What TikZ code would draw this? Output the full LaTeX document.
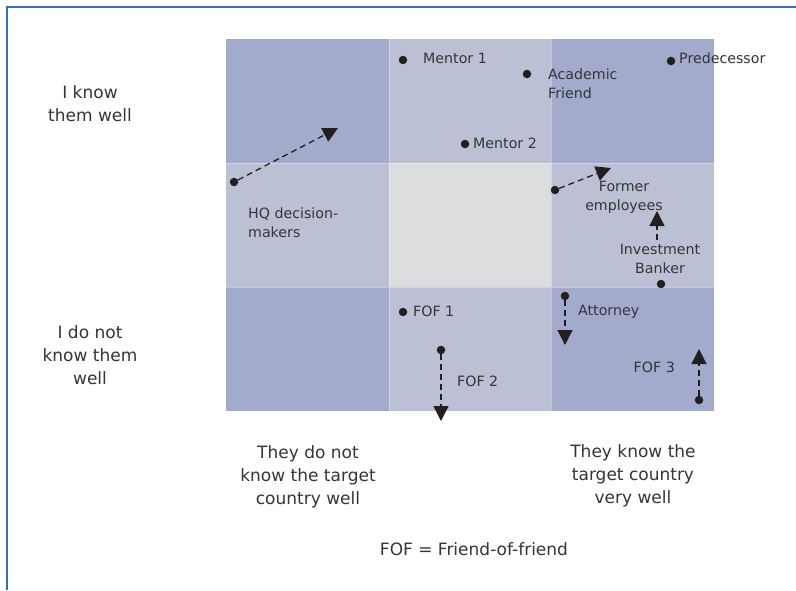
\documentclass[tikz,border=0pt]{standalone}
\usepackage{fontspec}
\setmainfont{DejaVu Sans}
\usetikzlibrary{arrows.meta}
\definecolor{celldark}{RGB}{162,171,203}
\definecolor{cellmid}{RGB}{187,192,212}
\definecolor{celllight}{RGB}{220,221,223}
\definecolor{framebl}{RGB}{52,112,180}
\definecolor{ink}{RGB}{35,31,32}
\definecolor{txt}{RGB}{55,52,55}
\begin{document}
\begin{tikzpicture}[x=1pt,y=-1pt,
  dot/.style={circle,fill=ink,inner sep=0pt,minimum size=8.5pt},
  lbl/.style={text=txt,inner sep=0pt,font=\fontsize{14.2}{19}\selectfont},
  axis/.style={text=txt,inner sep=0pt,align=center,font=\fontsize{17}{23.2}\selectfont},
  dasharrow/.style={draw=ink,line width=1.3pt,dash pattern=on 6pt off 4pt,
    -{Triangle[length=15pt,width=15pt]}}]
\useasboundingbox (0,0) rectangle (796,590);
\fill[white] (0,0) rectangle (796,590);
% open frame: top and left rules
\draw[framebl,line width=2pt] (796,6.5) -- (7,6.5) -- (7,590);
% 3x3 grid of cells
\fill[celldark]  (226,39)  rectangle (389,163);
\fill[cellmid]   (389,39)  rectangle (551,163);
\fill[celldark]  (551,39)  rectangle (714,163);
\fill[cellmid]   (226,163) rectangle (389,287);
\fill[celllight] (389,163) rectangle (551,287);
\fill[cellmid]   (551,163) rectangle (714,287);
\fill[celldark]  (226,287) rectangle (389,411);
\fill[cellmid]   (389,287) rectangle (551,411);
\fill[celldark]  (551,287) rectangle (714,411);
\draw[white,opacity=0.35,line width=1pt] (389,39) -- (389,411) (551,39) -- (551,411)
  (226,163) -- (714,163) (226,287) -- (714,287);
% axis labels
\node[axis] (ykw) at (90,104) {I know\\them well};
\node[axis] (ynk) at (90,355) {I do not\\know them\\well};
\node[axis] (xnk) at (308,477) {They do not\\know the target\\country well};
\node[axis] (xk)  at (633,476) {They know the\\target country\\very well};
\node[axis] (key) at (474,549) {FOF = Friend-of-friend};
% people
\node[dot] (m1) at (403,60) {};
\node[lbl,anchor=west] (m1l) at (423,58) {Mentor 1};
\node[dot] (af) at (527,74) {};
\node[lbl,anchor=west,align=left] (afl) at (548,84) {Academic\\Friend};
\node[dot] (pre) at (671,61) {};
\node[lbl,anchor=west] (prel) at (679,58) {Predecessor};
\node[dot] (m2) at (465,144) {};
\node[lbl,anchor=west] (m2l) at (473,143) {Mentor 2};
\node[dot] (hq) at (234,182) {};
\coordinate (hqend) at (338,128);
\node[lbl,anchor=west,align=left] (hql) at (248,223) {HQ decision-\\makers};
\node[dot] (fe) at (555,190) {};
\coordinate (feend) at (611,168);
\node[lbl,align=center] (fel) at (624,197) {Former\\employees};
\coordinate (ibtail) at (657,240);
\coordinate (ibhead) at (657,211);
\node[lbl,align=center] (ibl) at (660,259) {Investment\\Banker};
\node[dot] (ib) at (661,284) {};
\node[dot] (att) at (565,296) {};
\coordinate (attend) at (565,345);
\node[lbl,anchor=west] (attl) at (578,312) {Attorney};
\node[dot] (f1) at (403,312) {};
\node[lbl,anchor=west] (f1l) at (413,311) {FOF 1};
\node[dot] (f2) at (441,350) {};
\coordinate (f2end) at (441,421);
\node[lbl,anchor=west] (f2l) at (457,381) {FOF 2};
\node[dot] (f3) at (699,400) {};
\coordinate (f3end) at (699,349);
\node[lbl,anchor=east] (f3l) at (675,367) {FOF 3};
% movements
\draw[dasharrow] (hq) -- (hqend);
\draw[dasharrow] (fe) -- (feend);
\draw[dasharrow] (ibtail) -- (ibhead);
\draw[dasharrow] (att) -- (attend);
\draw[dasharrow] (f2) -- (f2end);
\draw[dasharrow] (f3) -- (f3end);
\end{tikzpicture}
\end{document}
